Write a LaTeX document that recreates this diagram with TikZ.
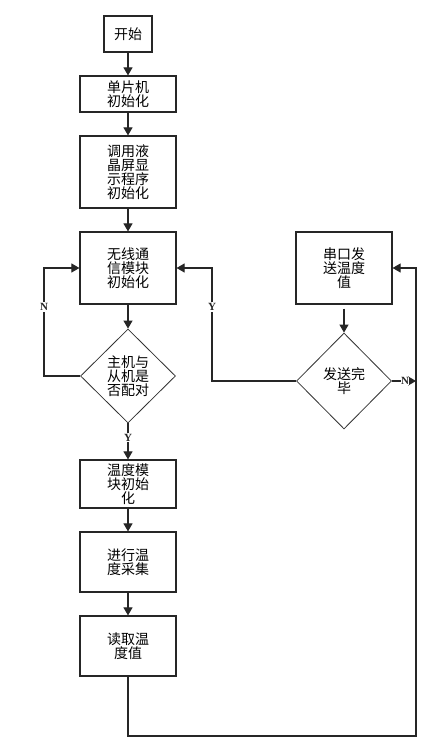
\documentclass[tikz,border=0pt]{standalone}
\usepackage{fontspec}
\newfontfamily\cjk{Noto Sans CJK SC}
\newfontfamily\lblfont{Liberation Serif}
\usetikzlibrary{arrows.meta,shapes.geometric}
\begin{document}
\begin{tikzpicture}[x=1pt,y=-1pt,
  txt/.style={font=\cjk\fontsize{14}{14}\selectfont, align=center, text=black},
  box/.style={txt, draw=black!85, line width=1.2pt, rectangle, inner sep=0pt, minimum width=96pt},
  dia/.style={txt, draw=black!80, line width=0.8pt, diamond, inner sep=0pt, minimum width=95pt},
  arr/.style={draw=black!85, line width=1.1pt, -{Triangle[width=9pt,length=8pt]}},
  ln/.style={draw=black!85, line width=1.1pt},
  lbl/.style={font=\lblfont\bfseries\fontsize{11}{11}\selectfont, fill=white, inner sep=1pt, text=black!85}
]
\useasboundingbox (0,0) rectangle (441,743);
\fill[white] (0,0) rectangle (441,743);

\node[box, minimum width=48pt, minimum height=36pt] (start) at (128,34) {开始};
\node[box, minimum height=36pt] (b1) at (128,94) {单片机\\初始化};
\node[box, minimum height=72pt] (b2) at (128,172) {调用液\\晶屏显\\示程序\\初始化};
\node[box, minimum height=72pt] (b3) at (128,268) {无线通\\信模块\\初始化};
\node[dia, minimum height=94pt] (d1) at (128,376) {主机与\\从机是\\否配对};
\node[box, minimum height=48pt] (b4) at (128,484) {温度模\\块初始\\化};
\node[box, minimum height=60pt] (b5) at (128,562) {进行温\\度采集};
\node[box, minimum height=60pt] (b6) at (128,646) {读取温\\度值};
\node[box, minimum height=72pt] (b7) at (344,268) {串口发\\送温度\\值};
\node[dia, minimum height=96pt] (d2) at (344,381) {发送完\\毕};

\coordinate (c1) at (44,268);
\coordinate (c2) at (212,268);
\coordinate (c4) at (416,736);
\coordinate (c5) at (416,381);

\draw[arr] (start) -- (b1);
\draw[arr] (b1) -- (b2);
\draw[arr] (b2) -- (b3);
\draw[arr] (b3) -- (d1);
\draw[arr] (d1) -- node[lbl, pos=0.4] {Y} (b4);
\draw[arr] (b4) -- (b5);
\draw[arr] (b5) -- (b6);
\draw[arr] (d1.west) -| (c1) -- (b3.west);
\node[lbl] (nlab) at (44,307) {N};
\draw[arr] (d2.west) -| (c2) -- (b3.east);
\node[lbl] (ylab) at (212,307) {Y};
\draw[arr, shorten <=4pt] (b7) -- (d2);
\draw[arr] (b6.south) |- (c4) |- (b7.east);
\draw[arr] (d2.east) -- (c5);
\node[lbl, inner sep=0.5pt] (nlab2) at (405,381) {N};
\end{tikzpicture}
\end{document}
